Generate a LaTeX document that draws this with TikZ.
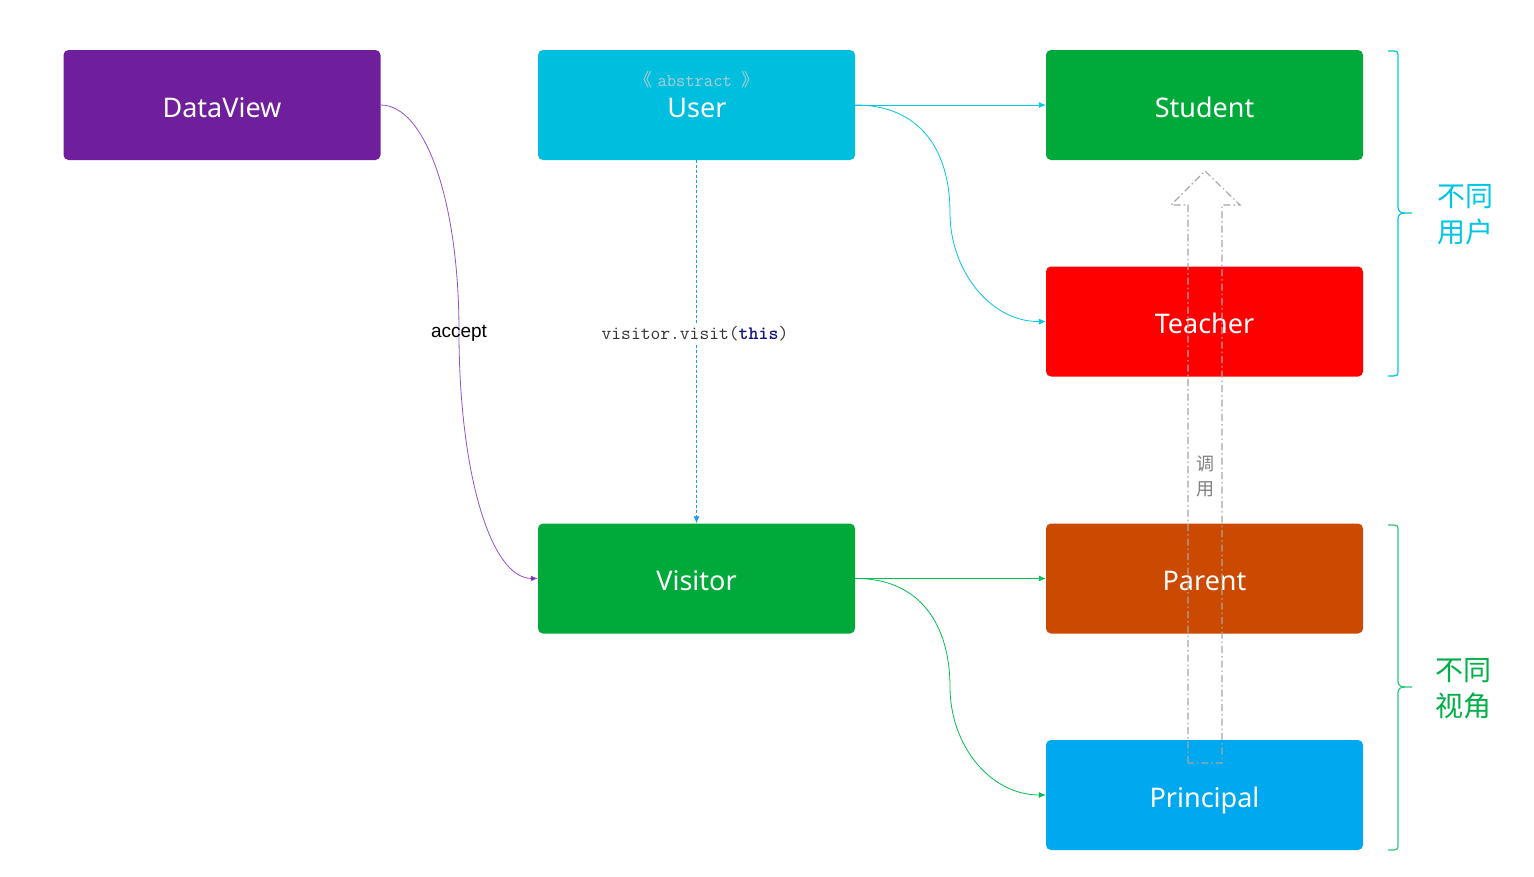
\documentclass[tikz,border=0pt]{standalone}
\usepackage{fontspec}
\setmainfont{Noto Sans}
\newfontfamily\cjk{Noto Sans CJK SC}
\newfontfamily\arial{Liberation Sans}
\usetikzlibrary{arrows.meta}
\definecolor{cPurple}{RGB}{111,31,155}
\definecolor{cCyan}{RGB}{0,190,222}
\definecolor{cGreen}{RGB}{0,170,58}
\definecolor{cRed}{RGB}{255,0,0}
\definecolor{cParent}{RGB}{204,74,0}
\definecolor{cPrin}{RGB}{0,168,240}
\definecolor{lPurple}{RGB}{150,80,205}
\definecolor{lCyan}{RGB}{0,198,230}
\definecolor{lBlue}{RGB}{30,160,230}
\definecolor{lGreen}{RGB}{0,190,80}
\definecolor{bGreen}{RGB}{40,200,120}
\definecolor{tGreen}{RGB}{0,175,70}
\definecolor{absGray}{RGB}{175,205,212}
\definecolor{thisBlue}{RGB}{20,20,130}
\tikzset{
  box/.style={rounded corners=5pt, minimum width=317pt, minimum height=110pt, inner sep=0pt, text=white, text height=30pt, text depth=6pt, font=\fontsize{27}{30}\selectfont},
  conn/.style={line width=0.8pt, -{Latex[length=7pt,width=6pt]}},
  brace/.style={line width=1.2pt},
  sidetext/.style={font=\cjk\fontsize{28}{36}\selectfont, align=center},
}
\begin{document}
\begin{tikzpicture}[x=1pt,y=-1pt]
\useasboundingbox[fill=white] (0,0) rectangle (1534,876);
% boxes
\node[box, fill=cPurple] (dv) at (222,105) {DataView};
\node[box, fill=cCyan] (user) at (696.5,105) {};
\node[font=\fontsize{18}{20}\selectfont, text=absGray] (abs) at (697,80) {{\cjk 《}\ \ttfamily abstract\ {\cjk 》}};
\node[text=white, font=\fontsize{27}{30}\selectfont] (usert) at (697,108) {User};
\node[box, fill=cGreen] (stu) at (1204.5,105) {Student};
\node[box, fill=cRed] (tea) at (1204.5,321.5) {Teacher};
\node[box, fill=cGreen] (vis) at (696.5,578.5) {Visitor};
\node[box, fill=cParent] (par) at (1204.5,578.5) {Parent};
\node[box, fill=cPrin] (pri) at (1204.5,795) {Principal};
% accept curve
\coordinate (accm) at (459,332);
\draw[conn, draw=lPurple, -{Latex[length=7pt,width=6pt,fill=cPurple]}] (dv.east) .. controls (425,105) and (459,200) .. (accm) .. controls (459,470) and (490,578) .. (vis.west);
\node[font=\arial\fontsize{19}{22}\selectfont, text=black] (acc) at (459,333) {accept};
% user to visitor dashed
\draw[conn, draw=lBlue, dash pattern=on 3pt off 2pt] (user.south) -- (vis.north);
\node[fill=white, inner sep=3pt, font=\ttfamily\fontsize{19}{21}\selectfont, text=black!80] (vv) at (695,334) {visitor.visit(\textcolor{thisBlue}{\bfseries this})};
% user to student / teacher
\draw[conn, draw=lCyan] (user.east) -- (stu.west);
\coordinate (um) at (950,213);
\draw[conn, draw=lCyan] (user.east) .. controls (920,105) and (950,150) .. (um) .. controls (950,270) and (990,322) .. (tea.west);
% visitor to parent / principal
\draw[conn, draw=lGreen] (vis.east) -- (par.west);
\coordinate (vm) at (950,687);
\draw[conn, draw=lGreen] (vis.east) .. controls (920,578) and (950,625) .. (vm) .. controls (950,745) and (990,795) .. (pri.west);
% hollow call arrow
\draw[gray!70, line width=1.1pt, dash pattern=on 7pt off 3pt on 1.5pt off 3pt] (1188,763) -- (1188,205) -- (1171,205) -- (1205,171) -- (1240,205) -- (1222,205) -- (1222,763) -- cycle;
\node[font=\cjk\fontsize{18}{25}\selectfont, text=gray, align=center] (call) at (1205,476) {调\\用};
% braces
\draw[brace, draw=lCyan] (1388,51) -- (1394,51) .. controls (1397,51) and (1398,52) .. (1398,56) -- (1398,207) .. controls (1398,211) and (1400,213) .. (1405,213) -- (1412,213);
\draw[brace, draw=lCyan] (1388,376) -- (1394,376) .. controls (1397,376) and (1398,375) .. (1398,371) -- (1398,219) .. controls (1398,215) and (1400,213) .. (1405,213);
\node[sidetext, text=lCyan] (t1) at (1465,215) {不同\\用户};
\draw[brace, draw=bGreen] (1388,525) -- (1394,525) .. controls (1397,525) and (1398,526) .. (1398,530) -- (1398,681) .. controls (1398,685) and (1400,687) .. (1405,687) -- (1412,687);
\draw[brace, draw=bGreen] (1388,850) -- (1394,850) .. controls (1397,850) and (1398,849) .. (1398,845) -- (1398,693) .. controls (1398,689) and (1400,687) .. (1405,687);
\node[sidetext, text=tGreen] (t2) at (1463,689) {不同\\视角};
\end{tikzpicture}
\end{document}
